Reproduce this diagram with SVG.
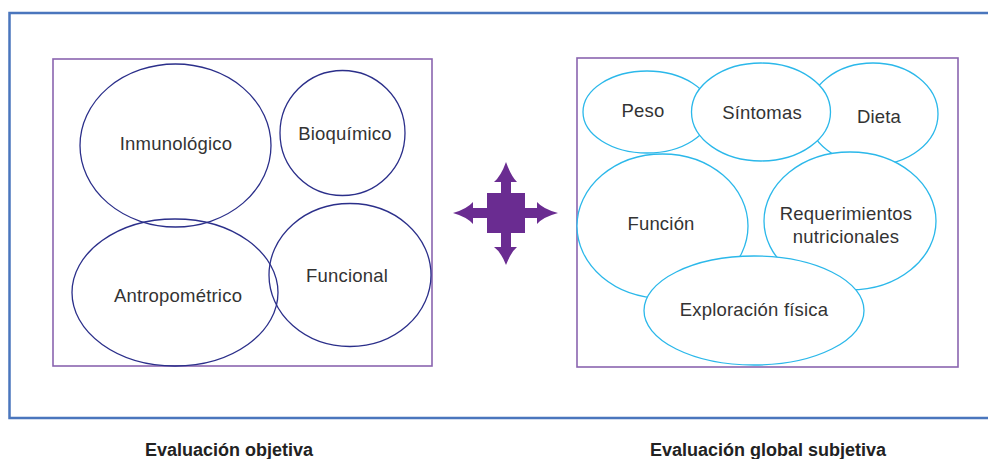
<svg xmlns="http://www.w3.org/2000/svg" width="988" height="459" viewBox="0 0 988 459">
  <style>
    .frame { fill: none; stroke: #4a76bd; stroke-width: 2.5; }
    .panel { fill: #ffffff; stroke: #8a64b0; stroke-width: 1.6; }
    .obj { fill: none; stroke: #2b2f8a; stroke-width: 1.3; }
    .subj { fill: #ffffff; stroke: #2bb8ea; stroke-width: 1.3; }
    .lbl { font-family: "Liberation Sans", Arial, sans-serif; font-size: 18.5px; letter-spacing: 0.2px; fill: #333333; text-anchor: middle; }
    .cap { font-family: "Liberation Sans", Arial, sans-serif; font-size: 18px; font-weight: bold; fill: #222222; text-anchor: middle; }
    .arrow { fill: #6a2c91; }
  </style>

  <!-- outer frame, open on the right -->
  <path class="frame" d="M 990 13 H 9.5 V 418 H 990"/>

  <!-- left panel: objective assessment -->
  <g id="panel-objetiva">
    <rect class="panel" x="53" y="59" width="379" height="307"/>
  </g>
  <g id="node-inmunologico">
    <ellipse class="obj" cx="175.5" cy="145.5" rx="95.5" ry="81.5"/>
    <text class="lbl" x="176" y="150">Inmunológico</text>
  </g>
  <g id="node-bioquimico">
    <ellipse class="obj" cx="342.5" cy="133" rx="62.5" ry="62.5"/>
    <text class="lbl" x="345" y="140">Bioquímico</text>
  </g>
  <g id="node-antropometrico">
    <ellipse class="obj" cx="175" cy="292.5" rx="103" ry="73.5"/>
    <text class="lbl" x="178" y="302">Antropométrico</text>
  </g>
  <g id="node-funcional">
    <ellipse class="obj" cx="350" cy="275" rx="81" ry="71.5"/>
    <text class="lbl" x="347" y="282">Funcional</text>
  </g>

  <!-- right panel: subjective global assessment -->
  <g id="panel-subjetiva">
    <rect class="panel" x="577" y="58" width="381" height="309"/>
  </g>
  <g id="node-peso">
    <ellipse class="subj" cx="647" cy="112" rx="64" ry="41"/>
    <text class="lbl" x="643" y="117">Peso</text>
  </g>
  <g id="node-dieta">
    <ellipse class="subj" cx="873" cy="114" rx="65" ry="51"/>
    <text class="lbl" x="879" y="123">Dieta</text>
  </g>
  <g id="node-funcion">
    <ellipse class="subj" cx="662.5" cy="226" rx="85.5" ry="72"/>
    <text class="lbl" x="661" y="230">Función</text>
  </g>
  <g id="node-requerimientos">
    <ellipse class="subj" cx="850" cy="221" rx="86" ry="69"/>
    <text class="lbl" x="846" y="220">Requerimientos</text>
    <text class="lbl" x="846" y="243">nutricionales</text>
  </g>
  <g id="node-sintomas">
    <ellipse class="subj" cx="761" cy="112" rx="69.5" ry="49"/>
    <text class="lbl" x="762" y="119">Síntomas</text>
  </g>
  <g id="node-exploracion">
    <ellipse class="subj" cx="754" cy="310.5" rx="110" ry="54.5"/>
    <text class="lbl" x="754" y="316">Exploración física</text>
  </g>

  <!-- connectors: four-way arrow between the panels -->
  <g id="connectors">
    <g class="arrow">
      <rect x="487" y="193" width="38" height="40"/>
      <!-- up -->
      <path d="M 501 193 V 182 H 494 Q 501 176 506 162 Q 511 176 517 182 H 511 V 193 Z"/>
      <!-- down -->
      <path d="M 501 233 V 247 H 494 Q 501 252 506 265 Q 511 252 517 247 H 511 V 233 Z"/>
      <!-- left -->
      <path d="M 487 208 H 473 V 202 Q 467 209 453 213 Q 467 217 473 224 V 218 H 487 Z"/>
      <!-- right -->
      <path d="M 525 208 H 537 V 202 Q 543 209 558 213 Q 543 217 537 224 V 218 H 525 Z"/>
    </g>
  </g>

  <!-- captions -->
  <text class="cap" x="229" y="455.5">Evaluación objetiva</text>
  <text class="cap" x="768" y="455.5">Evaluación global subjetiva</text>
</svg>
